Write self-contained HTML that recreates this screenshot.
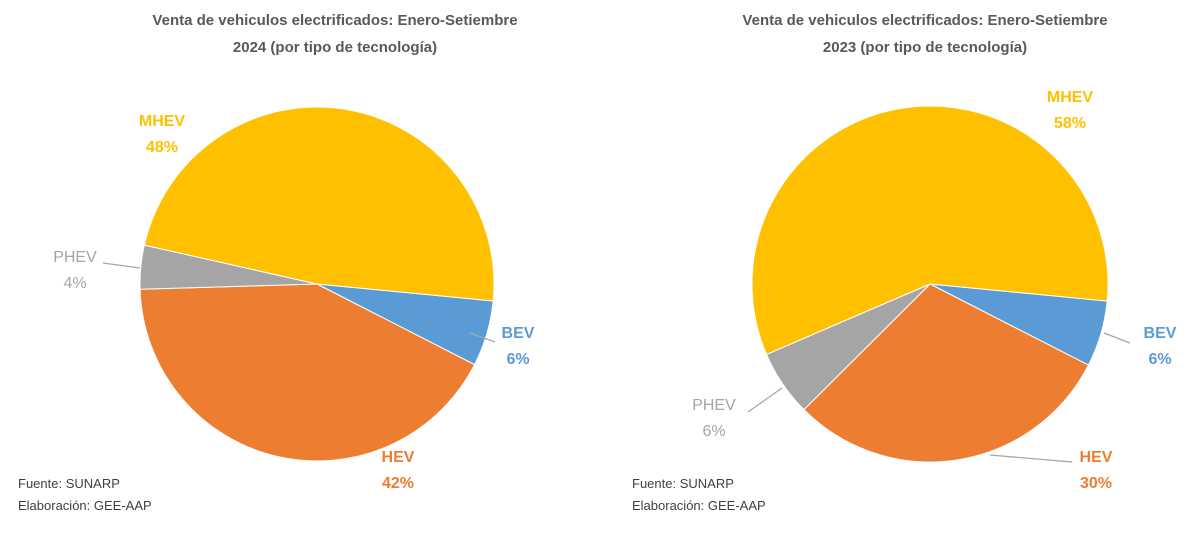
<!DOCTYPE html>
<html><head><meta charset="utf-8"><style>
body{margin:0;background:#fff;width:1200px;height:538px;overflow:hidden;font-family:"Liberation Sans",sans-serif}
svg text{font-family:"Liberation Sans",sans-serif}
</style></head><body>
<svg id="c" width="1200" height="538">
<text x="335" y="25" text-anchor="middle" font-size="15" font-weight="bold" fill="#595959">Venta de vehiculos electrificados: Enero-Setiembre</text>
<text x="335" y="52" text-anchor="middle" font-size="15" font-weight="bold" fill="#595959">2024 (por tipo de tecnología)</text>
<text x="925" y="25" text-anchor="middle" font-size="15" font-weight="bold" fill="#595959">Venta de vehiculos electrificados: Enero-Setiembre</text>
<text x="925" y="52" text-anchor="middle" font-size="15" font-weight="bold" fill="#595959">2023 (por tipo de tecnología)</text>
<text x="18" y="488" font-size="13" fill="#404040">Fuente: SUNARP</text>
<text x="18" y="510" font-size="13" fill="#404040">Elaboración: GEE-AAP</text>
<text x="632" y="488" font-size="13" fill="#404040">Fuente: SUNARP</text>
<text x="632" y="510" font-size="13" fill="#404040">Elaboración: GEE-AAP</text>
<g id="p1"></g><g id="p2"></g>
<g stroke="#a6a6a6" stroke-width="1.3" fill="none">
<polyline points="103,263 140,268"/>
<polyline points="470,333 495,342"/>
<polyline points="1104,333 1130,343"/>
<polyline points="748,412 782,388"/>
<polyline points="990,455 1072,462"/>
</g>
</svg>
<script>
const categories=["BEV","HEV","PHEV","MHEV"];
const colors=["#5B9BD5","#ED7D31","#A5A5A5","#FFC000"];
const values2024=[6,42,4,48];
const values2023=[6,30,6,58];
const labels2024=[["BEV","6%",518,338],["HEV","42%",398,462],["PHEV","4%",75,262],["MHEV","48%",162,126]];
const labels2023=[["BEV","6%",1160,338],["HEV","30%",1096,462],["PHEV","6%",714,410],["MHEV","58%",1070,102]];
const NS="http://www.w3.org/2000/svg";
function pie(gid,vals,cx,cy,r,labs,yr){
  const g=document.getElementById(gid);
  const tot=vals.reduce((a,b)=>a+b,0);
  let a=5.5*Math.PI/180;
  vals.forEach((v,i)=>{
    const a2=a+v/tot*2*Math.PI;
    const p=document.createElementNS(NS,"path");
    const large=(a2-a)>Math.PI?1:0;
    p.setAttribute("d",`M${cx},${cy}L${cx+r*Math.cos(a)},${cy+r*Math.sin(a)}A${r},${r} 0 ${large} 1 ${cx+r*Math.cos(a2)},${cy+r*Math.sin(a2)}Z`);
    p.setAttribute("fill",colors[i]);
    p.setAttribute("stroke","#fff");
    p.setAttribute("stroke-width","1");
    
    
    g.appendChild(p);
    a=a2;
  });
  labs.forEach((l,i)=>{
    [0,1].forEach(k=>{
      const t=document.createElementNS(NS,"text");
      t.setAttribute("x",l[2]);t.setAttribute("y",l[3]+k*26);
      t.setAttribute("text-anchor","middle");t.setAttribute("font-size","16");
      t.setAttribute("font-weight",categories[i]==="PHEV"?"normal":"bold");
      t.setAttribute("fill",colors[i]);
      t.textContent=k===0?l[0]:(Math.round(vals[i]/tot*100)+"%");
      
      
      g.appendChild(t);
    });
  });
}
pie("p1",values2024,317,284,177,labels2024,"2024");
pie("p2",values2023,930,284,178,labels2023,"2023");
</script>
</body></html>
